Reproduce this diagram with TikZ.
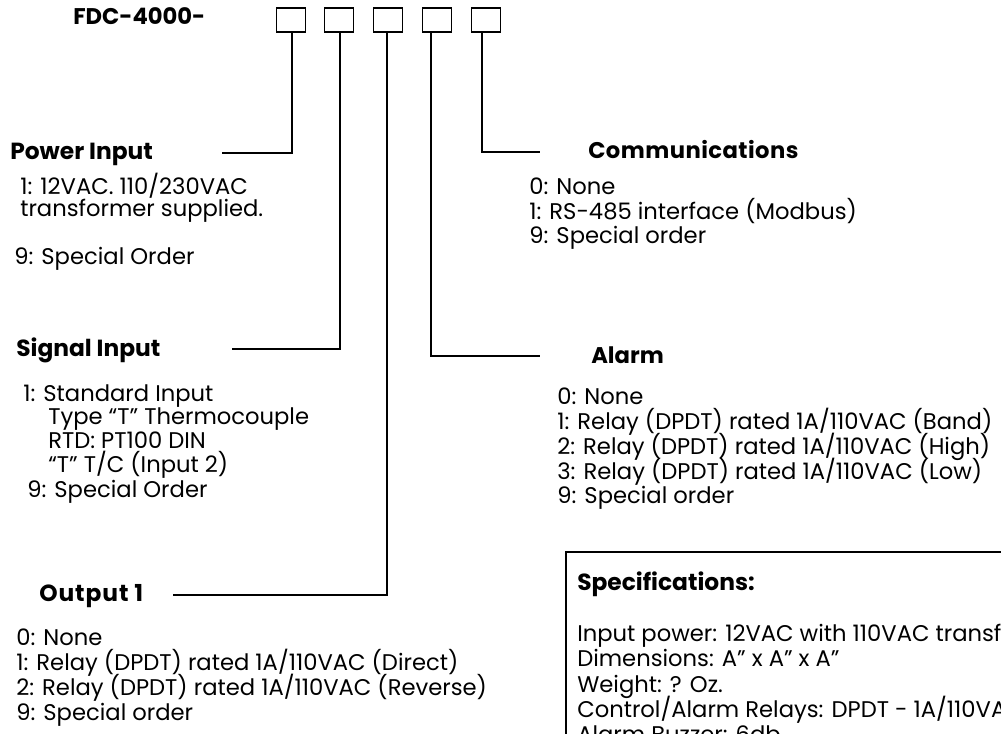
\documentclass[tikz,border=0pt]{standalone}
\usepackage{fontspec}
\setmainfont{Poppins}
\begin{document}
\begin{tikzpicture}[x=0.75pt,y=-0.75pt,
  txt/.style={anchor=base west, inner sep=0pt, text=black, font=\fontsize{17}{20}\selectfont},
  hd/.style={anchor=base west, inner sep=0pt, text=black, font=\fontsize{17.5}{20}\selectfont\bfseries},
  digit/.style={draw=black, line width=1pt, minimum width=21.75pt, minimum height=18pt, inner sep=0pt},
  conn/.style={draw=black, line width=1.1pt}]
\useasboundingbox (0,0) rectangle (1001,734);
\clip (0,0) rectangle (1001,734);
\fill[white] (0,0) rectangle (1001,734);

\node[anchor=base west, inner sep=0pt, font=\fontsize{17}{20}\selectfont\bfseries] (title) at (73,25) {FDC-4000-};
\node[digit] (b1) at (291,20) {};
\node[digit] (b2) at (339,20) {};
\node[digit] (b3) at (388,20) {};
\node[digit] (b4) at (437,20) {};
\node[digit] (b5) at (486,20) {};

\coordinate (pe) at (222,153);
\coordinate (ce) at (540,152);
\coordinate (se) at (232,349);
\coordinate (ae) at (540,356);
\coordinate (oe) at (173,595);
\draw[conn] ([xshift=0.75pt]b1.south) |- (pe);
\draw[conn] ([xshift=-3pt]b5.south) |- (ce);
\draw[conn] ([xshift=0.75pt]b2.south) |- (se);
\draw[conn] ([xshift=-4.5pt]b4.south) |- (ae);
\draw[conn] ([xshift=-0.75pt]b3.south) |- (oe);

% Power input
\node[hd] (ph) at (10,160) {Power Input};
\node[txt] (p1) at (20,195) {1: 12VAC. 110/230VAC};
\node[txt] (p2) at (20,217) {transformer supplied.};
\node[txt] (p3) at (14,265) {9: Special Order};

% Communications
\node[hd, font=\fontsize{17}{20}\selectfont\bfseries\addfontfeature{LetterSpace=2}] (ch) at (588,159) {Communications};
\node[txt] (c1) at (529,195) {0: None};
\node[txt] (c2) at (529,220) {1: RS-485 interface (Modbus)};
\node[txt] (c3) at (529,244) {9: Special order};

% Signal input
\node[hd] (sh) at (16,357) {Signal Input};
\node[txt] (s1) at (23,402) {1: Standard Input};
\node[txt] (s2) at (48,425) {Type “T” Thermocouple};
\node[txt] (s3) at (48,449) {RTD: PT100 DIN};
\node[txt] (s4) at (48,473) {“T” T/C (Input 2)};
\node[txt] (s5) at (27,498) {9: Special Order};

% Alarm
\node[hd, font=\fontsize{17}{20}\selectfont\bfseries] (ah) at (591,364) {Alarm};
\node[txt] (a1) at (557,405) {0: None};
\node[txt] (a2) at (557,430) {1: Relay (DPDT) rated 1A/110VAC (Band)};
\node[txt] (a3) at (557,455) {2: Relay (DPDT) rated 1A/110VAC (High)};
\node[txt] (a4) at (557,480) {3: Relay (DPDT) rated 1A/110VAC (Low)};
\node[txt] (a5) at (557,504) {9: Special order};

% Output 1
\node[hd, font=\fontsize{17.5}{20}\selectfont\bfseries\addfontfeature{LetterSpace=4}] (oh) at (39,602) {Output 1};
\node[txt] (o1) at (16,645) {0: None};
\node[txt] (o2) at (16,670) {1: Relay (DPDT) rated 1A/110VAC (Direct)};
\node[txt] (o3) at (16,695) {2: Relay (DPDT) rated 1A/110VAC (Reverse)};
\node[txt] (o4) at (16,720) {9: Special order};

% Specifications
\draw[black, line width=2pt] (566,552) rectangle (1020,780);
\node[hd] (sph) at (577,590) {Specifications:};
\node[txt] (sp1) at (577,642) {Input power: 12VAC with 110VAC transformer};
\node[txt] (sp2) at (577,667) {Dimensions: A” x A” x A”};
\node[txt] (sp3) at (577,692) {Weight: ? Oz.};
\node[txt] (sp4) at (577,717) {Control/Alarm Relays: DPDT - 1A/110VAC};
\node[txt] (sp5) at (577,742) {Alarm Buzzer: 6db};
\end{tikzpicture}
\end{document}
